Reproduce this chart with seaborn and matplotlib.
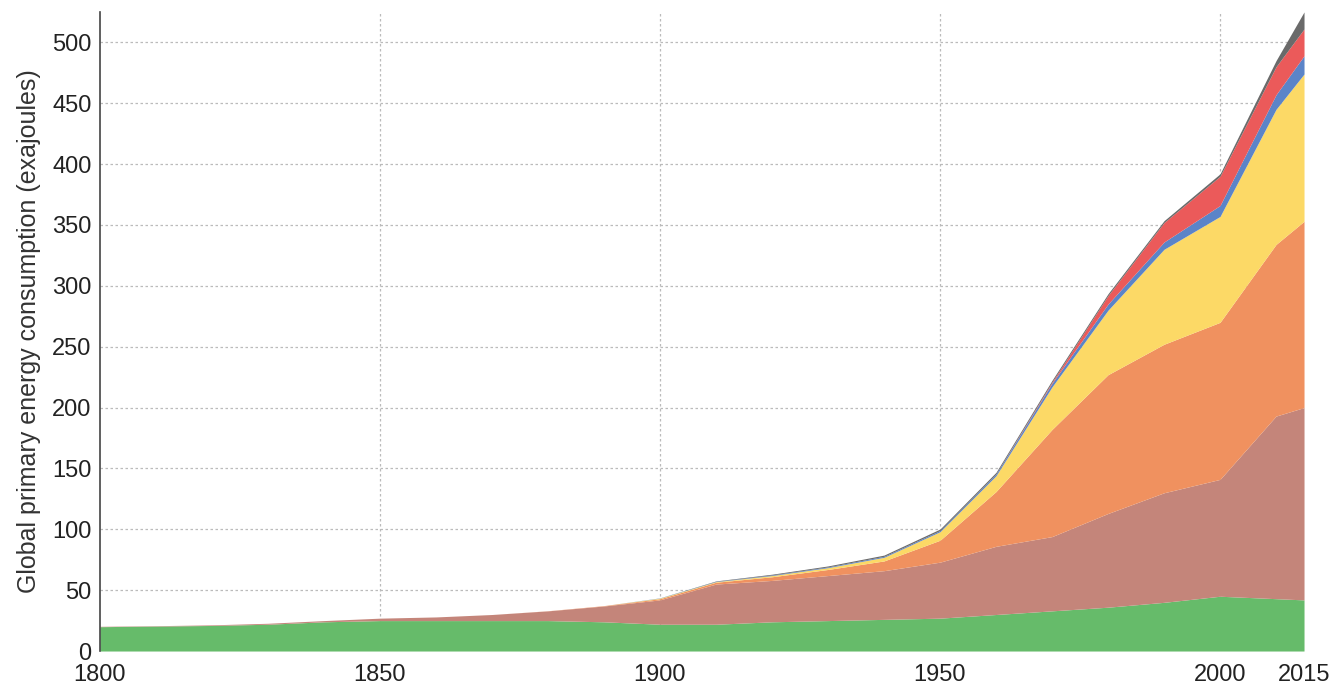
import numpy as np
import pandas as pd
import matplotlib
matplotlib.use('Agg')
import matplotlib.pyplot as plt
import seaborn as sns

# ── Data (EJ) ───────────────────────────────────────────────
years = [1800, 1810, 1820, 1830, 1840, 1850, 1860, 1870, 1880, 1890,
         1900, 1910, 1920, 1930, 1940, 1950, 1960, 1970, 1980, 1990,
         2000, 2010, 2015]

biomass = [20, 20.5, 21, 22, 24, 25, 25, 25, 25, 24,
           22, 22, 24, 25, 26, 27, 30, 33, 36, 40,
           45, 43, 42]
coal = [0.3, 0.3, 0.5, 0.8, 1, 2, 3, 5, 8, 13,
        20, 33, 34, 37, 40, 46, 56, 61, 77, 90,
        96, 150, 158]
oil = [0, 0, 0, 0, 0, 0, 0, 0, 0.1, 0.3,
       1, 1.5, 3, 5, 8, 18, 45, 88, 114, 122,
       129, 141, 153]
gas = [0, 0, 0, 0, 0, 0, 0, 0, 0, 0,
       0.5, 0.5, 1, 1.5, 3, 7, 13, 35, 53, 78,
       87, 111, 121]
hydro = [0, 0, 0, 0, 0, 0, 0, 0, 0, 0,
         0.2, 0.3, 0.5, 0.6, 0.8, 1, 1.5, 3, 5, 6,
         9, 12, 15]
nuclear = [0, 0, 0, 0, 0, 0, 0, 0, 0, 0,
           0, 0, 0, 0, 0, 0, 0, 1, 7, 16,
           24, 23, 22]
other = [0, 0, 0, 0, 0, 0, 0, 0, 0, 0,
         0, 0.3, 0.6, 0.8, 1, 1.2, 1.3, 1.4, 1.5, 1.5,
         2, 5, 14]

x_ticks = [1800, 1850, 1900, 1950, 2000, 2015]
y_ticks = [0, 50, 100, 150, 200, 250, 300, 350, 400, 450, 500]

colors = ['#66bb6a', '#c4857a', '#f0915f', '#fcd966',
          '#5b84c8', '#eb5a5a', '#6a6a6a']

df = pd.DataFrame({'year': years, 'biomass': biomass, 'coal': coal,
                   'oil': oil, 'gas': gas, 'hydro': hydro,
                   'nuclear': nuclear, 'other': other})

# ── Plot ────────────────────────────────────────────────────
sns.set_style('white')
plt.rcParams['font.family'] = ['Liberation Sans', 'DejaVu Sans']

fig = plt.figure(figsize=(13.32, 6.85), dpi=100)
ax = fig.add_axes([0.075, 0.0496, 0.904, 0.933])

layers = ['biomass', 'coal', 'oil', 'gas', 'hydro', 'nuclear', 'other']
ax.stackplot(df['year'], [df[c] for c in layers], colors=colors,
             linewidth=0, zorder=2)

ax.set_xlim(1800, 2015)
ax.set_ylim(0, 525)
ax.set_xticks(x_ticks)
ax.set_yticks(y_ticks)
ax.tick_params(axis='both', length=0, labelsize=17, colors='#222222')
ax.tick_params(axis='y', pad=6)
ax.tick_params(axis='x', pad=9)

for v in y_ticks[1:]:
    ax.axhline(v, color='#bbbbbb', linestyle=(0, (2, 2)), linewidth=0.9, zorder=1)
for v in x_ticks[1:-1]:
    ax.axvline(v, color='#bbbbbb', linestyle=(0, (2, 2)), linewidth=0.9, zorder=1)

ax.set_ylabel('Global primary energy consumption (exajoules)',
              fontsize=18, color='#333333', labelpad=8)

sns.despine(ax=ax, top=True, right=True, bottom=True)
ax.spines['left'].set_color('#444444')
ax.spines['left'].set_linewidth(1.2)

plt.savefig('out.png', dpi=100)
